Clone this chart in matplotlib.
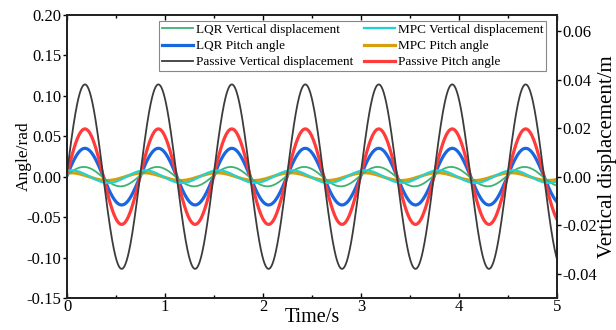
import numpy as np
import matplotlib
matplotlib.use("Agg")
import matplotlib.pyplot as plt
from matplotlib.ticker import MultipleLocator, FormatStrFormatter

plt.rcParams['font.family'] = ['Liberation Serif', 'DejaVu Serif']

# Harmonic response parameters for each signal (amplitude, phase in rad)
freq_hz = 4.0 / 3.0
t_end = 5.0

series_names = [
    "LQR Vertical displacement", "LQR Pitch angle", "Passive Vertical displacement",
    "MPC Vertical displacement", "MPC Pitch angle", "Passive Pitch angle",
]
# vertical displacement amplitudes (m) -> right axis
vd_amplitude = {"LQR": 0.0040, "MPC": 0.0026, "Passive": 0.0380}
vd_phase = {"LQR": 0.15, "MPC": 1.20, "Passive": 0.05}
# pitch angle amplitudes (rad) -> left axis
pitch_amplitude = {"LQR": 0.035, "MPC": 0.0048, "Passive": 0.059}
pitch_phase = {"LQR": 0.05, "MPC": 1.30, "Passive": 0.05}

colors = {
    "LQR Vertical displacement": "#3cb371",
    "MPC Vertical displacement": "#22d3d3",
    "Passive Vertical displacement": "#3c3c3c",
    "LQR Pitch angle": "#1a66e0",
    "MPC Pitch angle": "#d4a010",
    "Passive Pitch angle": "#ff3b3b",
}
widths = {
    "LQR Vertical displacement": 1.3,
    "MPC Vertical displacement": 1.6,
    "Passive Vertical displacement": 1.3,
    "LQR Pitch angle": 2.3,
    "MPC Pitch angle": 2.3,
    "Passive Pitch angle": 2.3,
}

t = np.linspace(0, t_end, 2001)
w = 2 * np.pi * freq_hz

fig = plt.figure(figsize=(6.16, 3.30), dpi=100)
ax = fig.add_axes([0.109, 0.097, 0.795, 0.858])
ax2 = ax.twinx()

handles = {}
for ctrl in ["LQR", "MPC", "Passive"]:
    name = f"{ctrl} Pitch angle"
    y = pitch_amplitude[ctrl] * np.sin(w * t + pitch_phase[ctrl])
    handles[name], = ax.plot(t, y, color=colors[name], lw=widths[name])
for ctrl in ["LQR", "MPC", "Passive"]:
    name = f"{ctrl} Vertical displacement"
    y = vd_amplitude[ctrl] * np.sin(w * t + vd_phase[ctrl])
    handles[name], = ax2.plot(t, y, color=colors[name], lw=widths[name])

ax.set_xlim(0, t_end)
ax.set_ylim(-0.15, 0.20)
ax2.set_ylim(-0.05, 0.20 / 3)

ax.xaxis.set_major_locator(MultipleLocator(1))
ax.xaxis.set_minor_locator(MultipleLocator(0.5))
ax.yaxis.set_major_locator(MultipleLocator(0.05))
ax2.yaxis.set_major_locator(MultipleLocator(0.02))
ax.yaxis.set_major_formatter(FormatStrFormatter('%.2f'))
ax2.yaxis.set_major_formatter(FormatStrFormatter('%.2f'))

ax.tick_params(axis='x', which='both', direction='in', top=True, labelsize=12, pad=1)
ax.tick_params(axis='x', which='major', length=3.5, width=1.0)
ax.tick_params(axis='x', which='minor', length=2.0, width=1.0)
ax.tick_params(axis='y', which='major', direction='out', length=3, width=1.0, labelsize=12, pad=1.0)
ax2.tick_params(axis='y', which='major', direction='out', length=3, width=1.0, labelsize=12, pad=1.0)

for a in (ax, ax2):
    for s in a.spines.values():
        s.set_linewidth(1.3)
        s.set_color("#222222")

ax.set_xlabel("Time/s", fontsize=14.5, labelpad=-5)
ax.set_ylabel("Angle/rad", fontsize=12.5)
ax.yaxis.set_label_coords(-0.073, 0.5)
ax2.set_ylabel("Vertical displacement/m", fontsize=15)
ax2.yaxis.set_label_coords(1.0835, 0.5)

leg = ax2.legend([handles[n] for n in series_names], series_names, ncol=2,
                 loc='upper right', bbox_to_anchor=(0.978, 0.978),
                 fontsize=9.5, frameon=True, fancybox=False, framealpha=1,
                 edgecolor="#888888", handlelength=2.4, handletextpad=0.2,
                 columnspacing=0.8, labelspacing=0.3, borderpad=0.2,
                 borderaxespad=0.0)
leg.get_frame().set_linewidth(0.8)

fig.savefig("out.png", dpi=100)
